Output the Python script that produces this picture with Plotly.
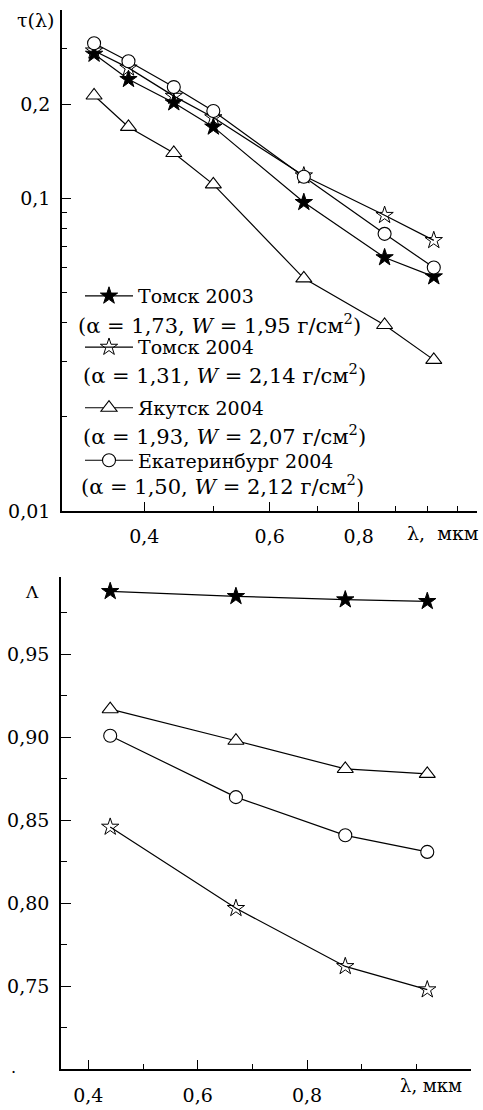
import numpy as np
import plotly.graph_objects as go

# ---------------- data ----------------
wl_tau = [0.34, 0.38, 0.44, 0.50, 0.67, 0.87, 1.02]
tau_tomsk2003 = [0.289, 0.240, 0.202, 0.169, 0.097, 0.0646, 0.0561]
tau_tomsk2004 = [0.296, 0.261, 0.212, 0.181, 0.118, 0.0882, 0.0733]
tau_yakutsk2004 = [0.213, 0.169, 0.1395, 0.1107, 0.0554, 0.0393, 0.0304]
tau_ekb2004 = [0.313, 0.274, 0.2266, 0.190, 0.1171, 0.0769, 0.0600]

wl_ssa = [0.44, 0.67, 0.87, 1.02]
ssa_tomsk2003 = [0.988, 0.985, 0.983, 0.982]
ssa_tomsk2004 = [0.846, 0.797, 0.762, 0.748]
ssa_yakutsk2004 = [0.917, 0.898, 0.881, 0.878]
ssa_ekb2004 = [0.901, 0.864, 0.841, 0.831]

names = ["Томск 2003", "Томск 2004", "Якутск 2004", "Екатеринбург 2004"]
params = ["(α = 1,73, <i>W</i> = 1,95 г/см<sup>2</sup>)",
          "(α = 1,31, <i>W</i> = 2,14 г/см<sup>2</sup>)",
          "(α = 1,93, <i>W</i> = 2,07 г/см<sup>2</sup>)",
          "(α = 1,50, <i>W</i> = 2,12 г/см<sup>2</sup>)"]

x_tick_vals = [0.4, 0.6, 0.8]
x_tick_text = ["0,4", "0,6", "0,8"]
x_minor_vals = [0.5, 0.7, 0.9, 1.0, 1.1]
tau_tick_vals = [0.01, 0.1, 0.2]
tau_tick_text = ["0,01", "0,1", "0,2"]
tau_minor_vals = [0.02, 0.03, 0.04, 0.05, 0.06, 0.07, 0.08, 0.09, 0.3, 0.4]
ssa_tick_vals = [0.75, 0.80, 0.85, 0.90, 0.95]
ssa_tick_text = ["0,75", "0,80", "0,85", "0,90", "0,95"]
ssa_minor_vals = [0.725, 0.775, 0.825, 0.875, 0.925, 0.975]

W, H = 483, 1110
FONT = "DejaVu Serif"

styles = [
    dict(symbol="star", size=13, color="black", line=dict(color="black", width=1)),
    dict(symbol="star-open", size=13, color="black", line=dict(color="black", width=1)),
    dict(symbol="triangle-up", size=14, color="white", line=dict(color="black", width=1.1)),
    dict(symbol="circle", size=13, color="white", line=dict(color="black", width=1.1)),
]
tau_series = [tau_tomsk2003, tau_tomsk2004, tau_yakutsk2004, tau_ekb2004]
ssa_series = [ssa_tomsk2003, ssa_tomsk2004, ssa_yakutsk2004, ssa_ekb2004]

fig = go.Figure()
legend_keys = ["legend", "legend2", "legend3", "legend4"]
for i in range(4):
    fig.add_trace(go.Scatter(
        x=wl_tau, y=tau_series[i], mode="lines+markers", name=names[i],
        line=dict(color="black", width=1.2), marker=styles[i],
        xaxis="x", yaxis="y", legend=legend_keys[i], showlegend=True))
for i in range(4):
    fig.add_trace(go.Scatter(
        x=wl_ssa, y=ssa_series[i], mode="lines+markers", name=names[i],
        line=dict(color="black", width=1.2), marker=styles[i],
        xaxis="x2", yaxis="y2", showlegend=False))

def px_x(p):
    return p / W

def px_y(p):
    return 1 - p / H

axis_common = dict(showline=True, linecolor="black", linewidth=1.6, ticks="inside",
                   tickcolor="black", tickwidth=1.4, showgrid=False, zeroline=False,
                   tickfont=dict(family=FONT, size=19, color="black"))

fig.update_layout(
    width=W, height=H, margin=dict(l=0, r=0, t=0, b=0),
    paper_bgcolor="white", plot_bgcolor="white",
    font=dict(family=FONT, size=19, color="black"),
    xaxis=dict(type="log", domain=[px_x(62), px_x(477)],
               range=[np.log10(0.3065), np.log10(1.173)], anchor="y",
               tickmode="array", tickvals=x_tick_vals, ticktext=x_tick_text, ticklen=9,
               ticklabelstandoff=8,
               minor=dict(tickmode="array", tickvals=x_minor_vals, ticks="inside",
                          ticklen=5, tickcolor="black", tickwidth=1.4),
               **axis_common),
    yaxis=dict(type="log", domain=[px_y(516), px_y(10)],
               range=[-2, np.log10(0.4)], anchor="x",
               tickmode="array", tickvals=tau_tick_vals, ticktext=tau_tick_text, ticklen=9,
               ticklabelstandoff=6,
               minor=dict(tickmode="array", tickvals=tau_minor_vals, ticks="inside",
                          ticklen=5, tickcolor="black", tickwidth=1.4),
               **axis_common),
    xaxis2=dict(domain=[px_x(61), px_x(471)], range=[0.35, 1.1], anchor="y2",
                tickmode="array", tickvals=x_tick_vals, ticktext=x_tick_text, ticklen=9,
                ticklabelstandoff=8,
                minor=dict(tickmode="array", tickvals=x_minor_vals, ticks="inside",
                           ticklen=5, tickcolor="black", tickwidth=1.4),
                **axis_common),
    yaxis2=dict(domain=[px_y(1080), px_y(582.7)], range=[0.70, 0.9967], anchor="x2",
                tickmode="array", tickvals=ssa_tick_vals, ticktext=ssa_tick_text, ticklen=10,
                ticklabelstandoff=6,
                minor=dict(tickmode="array", tickvals=ssa_minor_vals, ticks="inside",
                           ticklen=6, tickcolor="black", tickwidth=1.4),
                **axis_common),
)

legend_y = [299, 350.7, 412, 465]
for i, key in enumerate(legend_keys):
    fig.update_layout({key: dict(
        x=px_x(80), y=px_y(legend_y[i]), xanchor="left", yanchor="middle",
        bgcolor="rgba(0,0,0,0)", borderwidth=0, itemwidth=48,
        font=dict(family=FONT, size=19, color="black"))})

param_pos = [(76, 327), (81, 378), (81, 439), (79, 490)]
annotations = []
for (px, py), txt in zip(param_pos, params):
    annotations.append(dict(x=px_x(px), y=px_y(py), xref="paper", yref="paper",
                            text=txt, showarrow=False, xanchor="left", yanchor="middle",
                            font=dict(family=FONT, size=21, color="black")))
annotations += [
    dict(x=px_x(35), y=px_y(20), xref="paper", yref="paper", text="τ(λ)",
         showarrow=False, xanchor="center", yanchor="middle",
         font=dict(family=FONT, size=19, color="black")),
    dict(x=px_x(443), y=px_y(538), xref="paper", yref="paper", text="λ,  мкм",
         showarrow=False, xanchor="center", yanchor="middle",
         font=dict(family=FONT, size=19, color="black")),
    dict(x=px_x(32), y=px_y(598), xref="paper", yref="paper", text="Λ",
         showarrow=False, xanchor="center", yanchor="middle",
         font=dict(family=FONT, size=17, color="black")),
    dict(x=px_x(431), y=px_y(1096), xref="paper", yref="paper", text="λ, мкм",
         showarrow=False, xanchor="center", yanchor="middle",
         font=dict(family=FONT, size=18, color="black")),
    dict(x=px_x(13), y=px_y(1078), xref="paper", yref="paper", text=".",
         showarrow=False, xanchor="center", yanchor="middle",
         font=dict(family=FONT, size=16, color="black")),
]
fig.update_layout(annotations=annotations)

fig.write_html("out.html")
